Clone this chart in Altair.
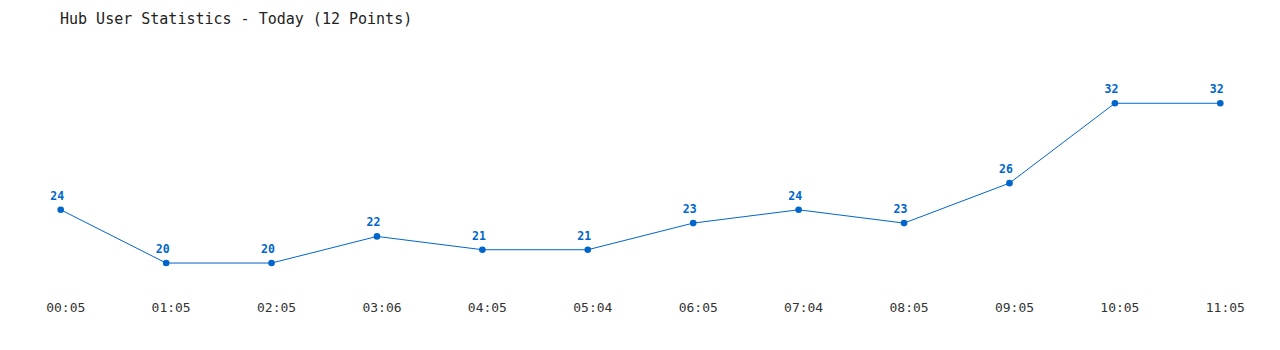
import altair as alt
import pandas as pd

times = ["00:05", "01:05", "02:05", "03:06", "04:05", "05:04",
         "06:05", "07:04", "08:05", "09:05", "10:05", "11:05"]
users = [24, 20, 20, 22, 21, 21, 23, 24, 23, 26, 32, 32]

df = pd.DataFrame({"time": times, "users": users})

FONT = "DejaVu Sans Mono"
BLUE = "#0066cc"

x = alt.X("time:O", sort=times,
          scale=alt.Scale(type="point", padding=0.5),
          axis=alt.Axis(title=None, labelAngle=0, domain=False, ticks=False,
                        labelFont=FONT, labelFontSize=13, labelColor="#333333",
                        labelPadding=6, labelOffset=4.5, grid=False))
y = alt.Y("users:Q", scale=alt.Scale(domain=[17.6, 36], zero=False, nice=False),
          axis=None)

base = alt.Chart(df).encode(x=x, y=y)

line = base.mark_line(color=BLUE, strokeWidth=1)
pts = base.mark_circle(color=BLUE, size=44, opacity=1)
labels = base.mark_text(color=BLUE, font=FONT, fontSize=11.5, fontWeight="bold",
                        dy=-13, dx=-3.5, baseline="middle").encode(text="users:Q")

chart = (line + pts + labels).properties(
    width=1265, height=245,
    background="white",
    title=alt.TitleParams("Hub User Statistics - Today (12 Points)",
                          anchor="start", frame="group", dx=52,
                          font=FONT, fontSize=15, fontWeight="normal",
                          color="#222222", offset=23),
    autosize=alt.AutoSizeParams(type="none"),
    padding={"left": 8, "top": 50, "right": 7, "bottom": 55},
).configure_view(strokeWidth=0, stroke="transparent")

chart.save("out.html", embed_options={"renderer": "svg", "actions": False})
